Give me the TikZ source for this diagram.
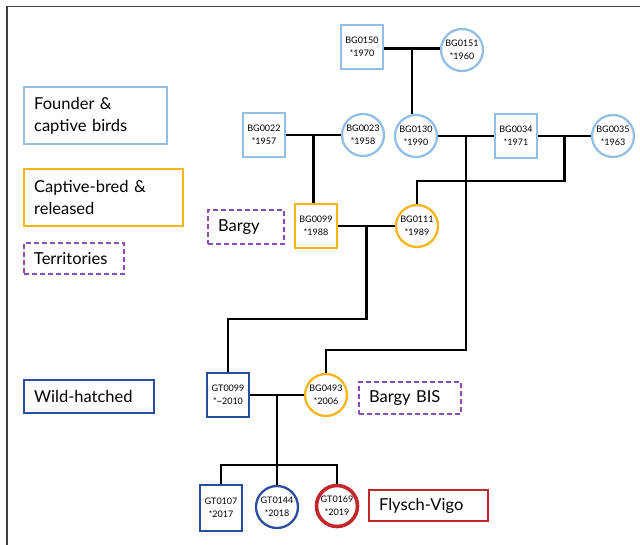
\documentclass[tikz,border=0pt]{standalone}
\usepackage{fontspec}
\setmainfont{Lato}
\usetikzlibrary{calc}
\definecolor{lblue}{HTML}{93BFE6}
\definecolor{gold}{HTML}{F4B619}
\definecolor{dblue}{HTML}{2A4E9E}
\definecolor{dred}{HTML}{C1272D}
\definecolor{purp}{HTML}{8A4CB0}
\definecolor{frame}{HTML}{404040}
\tikzset{
  bird/.style={draw=lblue, line width=2.3pt, fill=white, inner sep=0pt, align=center,
    font=\fontsize{9}{13}\selectfont},
  sq/.style={bird, rectangle, minimum width=42pt, minimum height=44pt},
  circ/.style={bird, circle, minimum size=42pt},
  legend/.style={rectangle, line width=2.3pt, inner xsep=10pt, inner ysep=0pt, align=left,
    anchor=north west, font=\fontsize{16.5}{22}\selectfont},
  terr/.style={legend, draw=purp, dashed, dash pattern=on 5pt off 3pt, line width=2pt},
  link/.style={line width=2.7pt, black},
}
\begin{document}
\begin{tikzpicture}[x=1pt,y=-1pt]
\useasboundingbox (0,0) rectangle (640,545);
% frame
\draw[frame, line width=1.6pt] (7,545) coordinate (fl) -- (7,6.5) coordinate (ft) -- (640,6.5) coordinate (fr);

% legend
\node[legend, draw=lblue, minimum width=143pt, minimum height=57pt, text width=123pt] (lf) at (23,86) {Founder \&\\captive birds};
\node[legend, draw=gold, minimum width=159pt, minimum height=57pt, text width=139pt] (lc) at (23,168) {Captive-bred \&\\released};
\node[terr, minimum width=100pt, minimum height=31pt, text width=80pt] (lt) at (23,242) {Territories};
\node[legend, draw=dblue, minimum width=130pt, minimum height=33pt, text width=110pt] (lw) at (23,379) {Wild-hatched};
\node[terr, minimum width=76pt, minimum height=34pt, text width=56pt] (lb) at (207,209) {Bargy};
\node[terr, minimum width=102pt, minimum height=32pt, text width=82pt] (lbb) at (358,381) {Bargy BIS};
\node[legend, draw=dred, minimum width=119pt, minimum height=31pt, text width=99pt] (lfv) at (368,489) {Flysch-Vigo};

% birds
\node[sq] (b150) at (362,47) {BG0150\\*1970};
\node[circ] (b151) at (462,50) {BG0151\\*1960};
\node[sq] (b022) at (264,135) {BG0022\\*1957};
\node[circ] (b023) at (363,135) {BG0023\\*1958};
\node[circ] (b130) at (416,136) {BG0130\\*1990};
\node[sq] (b034) at (516,136) {BG0034\\*1971};
\node[circ] (b035) at (613,136) {BG0035\\*1963};
\node[sq, draw=gold] (b099) at (316,226) {BG0099\\*1988};
\node[circ, draw=gold] (b111) at (417,226) {BG0111\\*1989};
\node[sq, draw=dblue] (g099) at (228,395) {GT0099\\*\textasciitilde2010};
\node[circ, draw=gold] (b493) at (326,395) {BG0493\\*2006};
\node[sq, draw=dblue, minimum height=46pt] (g107) at (221,508) {GT0107\\*2017};
\node[circ, draw=dblue] (g144) at (277,507) {GT0144\\*2018};
\node[circ, draw=dred, line width=3.6pt, minimum size=41pt] (g169) at (337,506) {GT0169\\*2019};

% couples
\coordinate (m1) at ($(b150.east)!0.5!(b151.west)$);
\coordinate (m2) at ($(b022.east)!0.5!(b023.west)$);
\coordinate (m3) at ($(b130.east)!0.5!(b034.west)$);
\coordinate (m4) at ($(b034.east)!0.5!(b035.west)$);
\coordinate (m5) at ($(b099.east)!0.5!(b111.west)$);
\coordinate (m6) at ($(g099.east)!0.5!(b493.west)$);
\draw[link] (b150.east |- m1) -- (b151.west |- m1);
\draw[link] (b022.east) -- (b023.west);
\draw[link] (b130.east) -- (b034.west);
\draw[link] (b034.east) -- (b035.west);
\draw[link] (b099.east) -- (b111.west);
\draw[link] (g099.east) -- (b493.west);
% descents
\draw[link] (m1) -- (m1 |- b130.north);
\draw[link] (m2) -- (m2 |- b099.north);
\draw[link] (m4) -- ($(m4)+(0,45)$) -| (b111.north);
\draw[link] (m5) -- ($(m5)+(0,93)$) -| (g099.north);
\draw[link] (m3) -- ($(m3)+(0,214)$) -| (b493.north);
\coordinate (kid) at ($(m6)+(0,70)$);
\draw[link] (m6) -- (kid);
\draw[link] (g107.north) |- (kid) -| (g169.north);
\draw[link] (kid) -- (g144.north);
\end{tikzpicture}
\end{document}
